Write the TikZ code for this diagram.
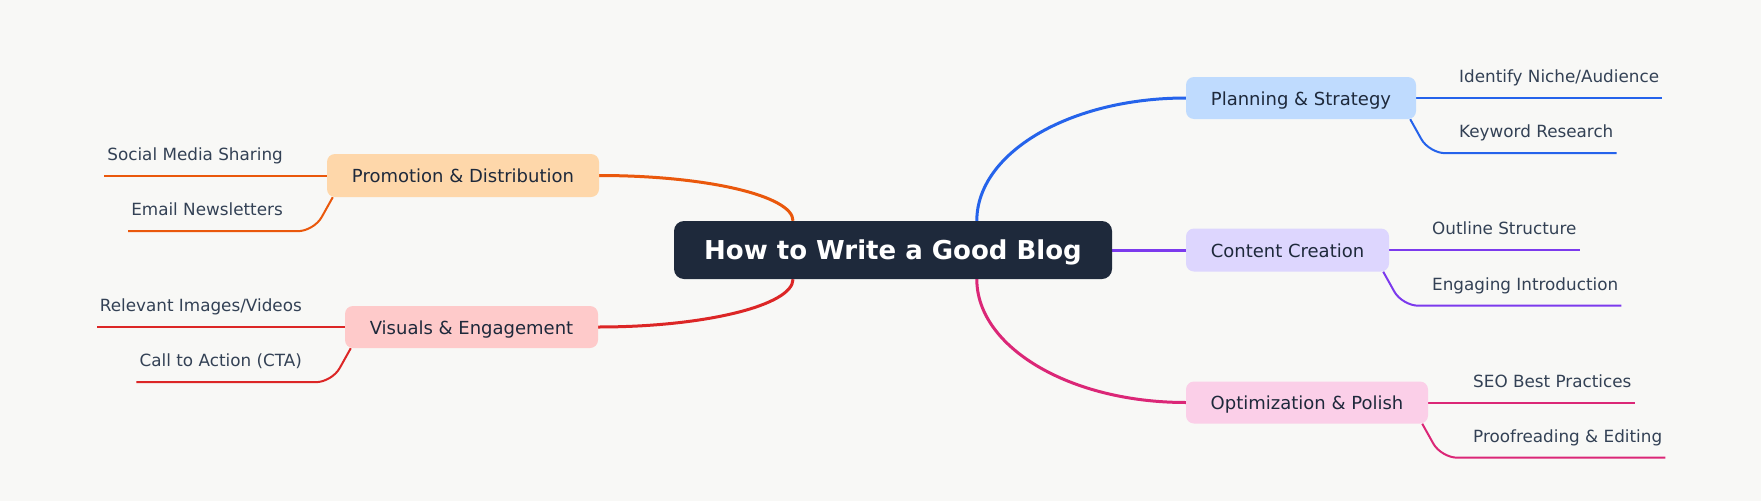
\documentclass[tikz,border=0pt]{standalone}
\usepackage{fontspec}
\setmainfont{DejaVu Sans}
\definecolor{bgc}{HTML}{F8F8F6}
\definecolor{rootc}{HTML}{1E293B}
\definecolor{nodetext}{HTML}{1E293B}
\definecolor{leaftextc}{HTML}{334155}
\definecolor{plancol}{HTML}{2563EB}
\definecolor{planfill}{HTML}{BFDBFE}
\definecolor{contcol}{HTML}{7C3AED}
\definecolor{contfill}{HTML}{DDD6FE}
\definecolor{optcol}{HTML}{DB2777}
\definecolor{optfill}{HTML}{FBCFE8}
\definecolor{procol}{HTML}{EA580C}
\definecolor{profill}{HTML}{FED7AA}
\definecolor{viscol}{HTML}{DC2626}
\definecolor{visfill}{HTML}{FECACA}
\pgfdeclarelayer{bglayer}
\pgfdeclarelayer{edgelayer}
\pgfsetlayers{bglayer,edgelayer,main}
\begin{document}
\begin{tikzpicture}[x=1pt,y=-1pt,
  rootbox/.style={fill=rootc, rounded corners=10pt, minimum width=438pt, minimum height=58pt, inner sep=0pt, text height=18pt, text depth=0pt, text=white, font=\fontsize{26}{30}\selectfont\bfseries},
  branchbox/.style={rounded corners=8pt, minimum height=42pt, inner sep=0pt, text height=14pt, text depth=0pt, text=nodetext, font=\fontsize{18}{22}\selectfont},
  leaftext/.style={inner xsep=3pt, inner ysep=0pt, text depth=15pt, text=leaftextc, font=\fontsize{16.8}{20}\selectfont},
  mainedge/.style={line width=3pt},
  leafedge/.style={line width=2pt, rounded corners=16pt},
]
\useasboundingbox (0,0) rectangle (1761,501);
\begin{pgfonlayer}{bglayer}
  \fill[bgc] (0,0) rectangle (1761,501);
\end{pgfonlayer}

% root and branches
\node[rootbox] (root) at (893,250) {How to Write a Good Blog};
\node[branchbox, fill=planfill, minimum width=230pt] (plan) at (1301,98) {Planning \& Strategy};
\node[branchbox, fill=contfill, minimum width=203pt, minimum height=43pt] (cont) at (1287.5,250) {Content Creation};
\node[branchbox, fill=optfill, minimum width=242pt] (opt) at (1307,402.5) {Optimization \& Polish};
\node[branchbox, fill=profill, minimum width=272pt, minimum height=43pt] (pro) at (463,175.5) {Promotion \& Distribution};
\node[branchbox, fill=visfill, minimum width=253pt] (vis) at (471.5,327) {Visuals \& Engagement};

% leaves right
\node[leaftext, anchor=south west] (pa) at (1456,98) {Identify Niche/Audience};
\node[leaftext, anchor=south west] (pb) at (1456,153) {Keyword Research};
\node[leaftext, anchor=south west] (ca) at (1429,250) {Outline Structure};
\node[leaftext, anchor=south west] (cb) at (1429,305.5) {Engaging Introduction};
\node[leaftext, anchor=south west] (oa) at (1470,402.5) {SEO Best Practices};
\node[leaftext, anchor=south west] (ob) at (1470,457.5) {Proofreading \& Editing};
% leaves left
\node[leaftext, anchor=south east] (ra) at (286,175.5) {Social Media Sharing};
\node[leaftext, anchor=south east] (rb) at (286,231) {Email Newsletters};
\node[leaftext, anchor=south east] (va) at (305,327) {Relevant Images/Videos};
\node[leaftext, anchor=south east] (vb) at (305,382) {Call to Action (CTA)};

\begin{pgfonlayer}{edgelayer}
  % main edges
  \draw[mainedge, plancol] ([xshift=303pt]root.north west) .. controls +(0,-68) and +(-116,0) .. (plan.west);
  \draw[mainedge, contcol] (root.east) -- (cont.west);
  \draw[mainedge, optcol] ([xshift=303pt]root.south west) .. controls +(0,68) and +(-116,0) .. (opt.west);
  \draw[mainedge, procol] (pro.east) .. controls +(107,0) and +(0,-25) .. ([xshift=-100pt]root.north);
  \draw[mainedge, viscol] (vis.east) .. controls +(107,0) and +(0,26) .. ([xshift=-100pt]root.south);
  % leaf edges right
  \draw[leafedge, plancol] (plan.east) -- (plan.east -| pa.south east);
  \draw[leafedge, plancol] ([xshift=-6pt]plan.south east) -- ++(19,34) -- (pb.south east);
  \draw[leafedge, contcol] (cont.east) -- (cont.east -| ca.south east);
  \draw[leafedge, contcol] ([xshift=-6pt]cont.south east) -- ++(19,34) -- (cb.south east);
  \draw[leafedge, optcol] (opt.east) -- (opt.east -| oa.south east);
  \draw[leafedge, optcol] ([xshift=-6pt]opt.south east) -- ++(19,34) -- (ob.south east);
  % leaf edges left
  \draw[leafedge, procol] (pro.west) -- (pro.west -| ra.south west);
  \draw[leafedge, procol] ([xshift=6pt]pro.south west) -- ++(-19,34) -- (rb.south west);
  \draw[leafedge, viscol] (vis.west) -- (vis.west -| va.south west);
  \draw[leafedge, viscol] ([xshift=6pt]vis.south west) -- ++(-19,34) -- (vb.south west);
\end{pgfonlayer}
\end{tikzpicture}
\end{document}
